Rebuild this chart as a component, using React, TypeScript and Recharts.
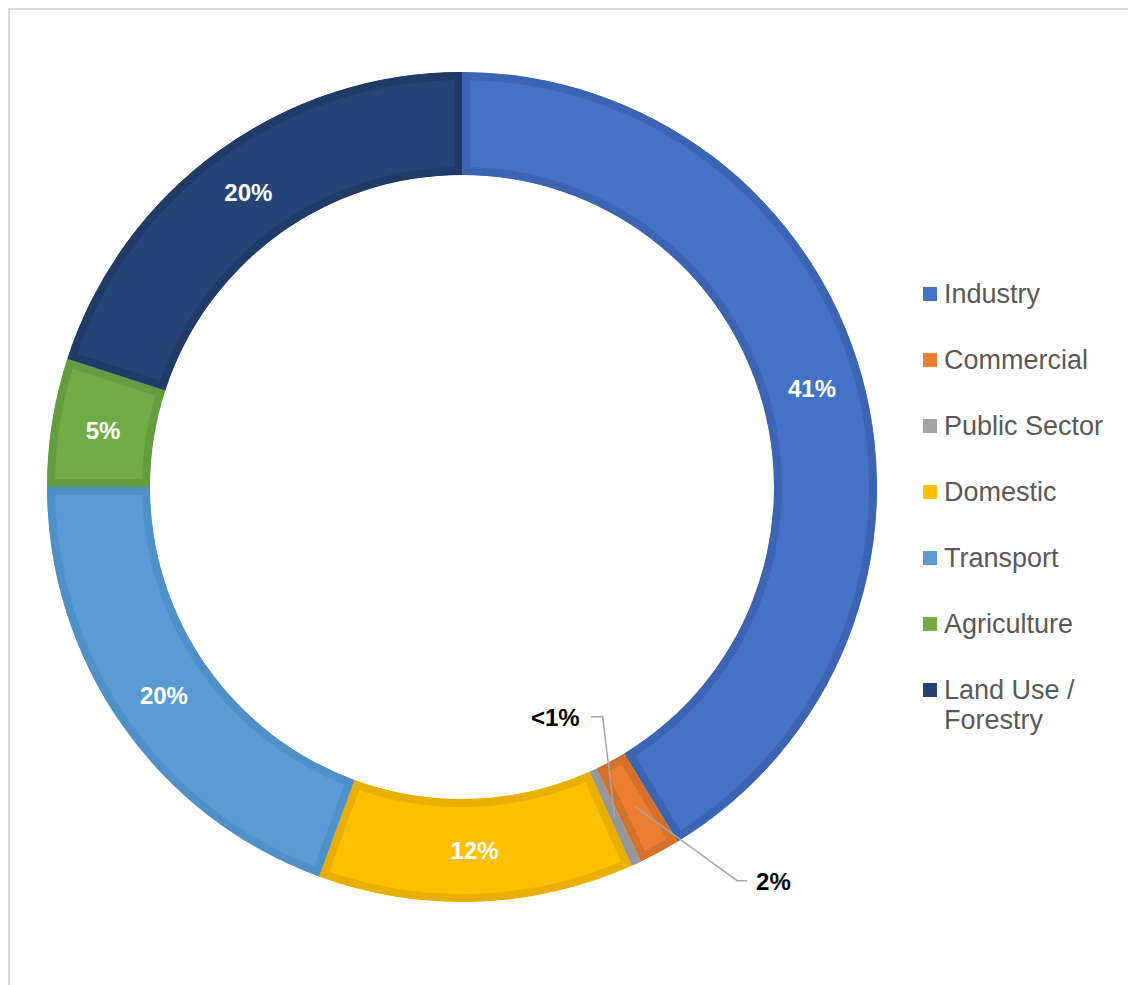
import { Cell, Legend, Pie, PieChart, Sector } from 'recharts'

const sectors = ['Industry', 'Commercial', 'Public Sector', 'Domestic', 'Transport', 'Agriculture', 'Land Use / Forestry']
const shares = [41.3, 1.6, 0.4, 12.3, 19.4, 5.0, 20.0]
const shareLabels = ['41%', '2%', '<1%', '12%', '20%', '5%', '20%']

const fills = ['#4472C4', '#ED7D31', '#A5A5A5', '#FFC000', '#5B9BD5', '#70AD47', '#264478']
const strokes = ['#3B65B3', '#D4702B', '#979797', '#E8AE00', '#5090C8', '#659C3F', '#213B68']

const data = sectors.map((name, i) => ({ name, value: shares[i] }))

const FONT = 'Arial, "Liberation Sans", sans-serif'
const RAD = Math.PI / 180

// slice with the border drawn only on the inside (like the office chart)
const InnerStrokeSector = (props: any) => {
  const { cx, cy, innerRadius, outerRadius, startAngle, endAngle, fill, stroke } = props
  const id = 'clip-' + Math.round(startAngle * 1000)
  return (
    <g>
      <defs>
        <clipPath id={id}>
          <Sector cx={cx} cy={cy} innerRadius={innerRadius} outerRadius={outerRadius} startAngle={startAngle} endAngle={endAngle} />
        </clipPath>
      </defs>
      <Sector
        cx={cx}
        cy={cy}
        innerRadius={innerRadius}
        outerRadius={outerRadius}
        startAngle={startAngle}
        endAngle={endAngle}
        fill={fill}
        stroke={stroke}
        strokeWidth={16}
        clipPath={`url(#${id})`}
      />
    </g>
  )
}

// the two thin slices get an outside label with a leader line
const outside: Record<number, { elbow: [number, number], end: [number, number], anchor: 'start' | 'end' }> = {
  1: { elbow: [102, 74], end: [112, 74], anchor: 'start' },
  2: { elbow: [-12, -100], end: [-24, -100], anchor: 'end' }
}

const renderLabel = (props: any) => {
  const { cx, cy, midAngle, innerRadius, outerRadius, index } = props
  const r = (innerRadius + outerRadius) / 2
  const x = cx + r * Math.cos(-midAngle * RAD)
  const y = cy + r * Math.sin(-midAngle * RAD)
  const o = outside[index]
  if (o) {
    const ex = x + o.elbow[0]
    const ey = y + o.elbow[1]
    const tx = x + o.end[0]
    const ty = y + o.end[1]
    return (
      <g key={'lbl-' + index}>
        <polyline points={`${x},${y} ${ex},${ey} ${tx},${ty}`} fill='none' stroke='#A6A6A6' strokeWidth={1.5} />
        <text
          x={o.anchor === 'start' ? tx + 9 : tx - 11}
          y={ty + 1}
          textAnchor={o.anchor}
          dominantBaseline='central'
          fill='#000'
          fontFamily={FONT}
          fontWeight='bold'
          fontSize={24}
        >
          {shareLabels[index]}
        </text>
      </g>
    )
  }
  return (
    <text
      key={'lbl-' + index}
      x={x}
      y={y}
      textAnchor='middle'
      dominantBaseline='central'
      fill='#fff'
      fontFamily={FONT}
      fontWeight='bold'
      fontSize={24}
    >
      {shareLabels[index]}
    </text>
  )
}

const renderLegend = () => (
  <div style={{ fontFamily: FONT, fontSize: 27, color: '#595959', lineHeight: '30px' }}>
    {sectors.map((name, i) => (
      <div key={name} style={{ display: 'flex', alignItems: 'flex-start', marginBottom: 36 }}>
        <span style={{ width: 14, height: 14, background: fills[i], marginTop: 8, marginRight: 7, flexShrink: 0 }} />
        <span style={{ maxWidth: 180 }}>{name}</span>
      </div>
    ))}
  </div>
)

export default function App () {
  return (
    <div style={{ width: 1128, height: 977, borderTop: '2px solid #D9D9D9', borderLeft: '2px solid #D9D9D9', background: '#fff' }}>
      <PieChart width={1126} height={975} margin={{ top: 0, right: 0, bottom: 0, left: 0 }}>
        <Pie
          data={data}
          dataKey='value'
          nameKey='name'
          cx={452}
          cy={477}
          innerRadius={312}
          outerRadius={415}
          startAngle={90}
          endAngle={-270}
          shape={InnerStrokeSector}
          label={renderLabel}
          labelLine={false}
          isAnimationActive={false}
        >
          {data.map((d, i) => (
            <Cell key={d.name} fill={fills[i]} stroke={strokes[i]} />
          ))}
        </Pie>
        <Legend
          content={renderLegend}
          wrapperStyle={{ position: 'absolute', left: 913, top: 269, width: 210 }}
        />
      </PieChart>
    </div>
  )
}
